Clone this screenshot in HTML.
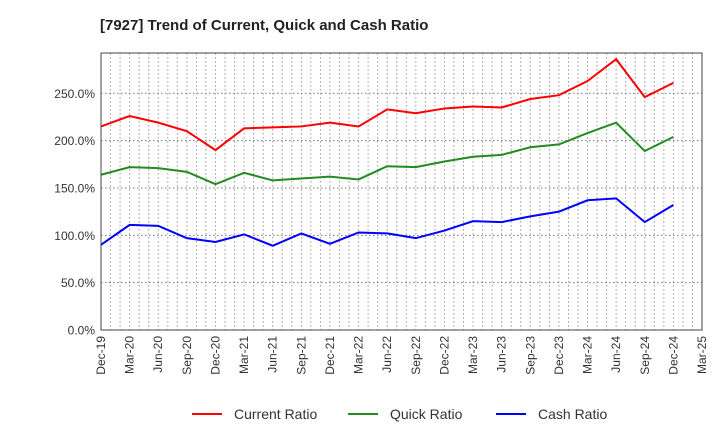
<!DOCTYPE html>
<html><head><meta charset="utf-8"><style>
body{margin:0;background:#fff;font-family:"Liberation Sans",Arial,sans-serif}
</style></head><body>
<svg width="720" height="440" xmlns="http://www.w3.org/2000/svg" id="chart" font-family="Liberation Sans, Arial, sans-serif">
<text x="100" y="30" font-size="15" font-weight="bold" fill="#222">[7927]  Trend of Current, Quick and Cash Ratio</text>
<g id="grid"></g><g id="series"></g><g id="axes"></g><g id="legend"></g>
</svg>
<script>
const categories=["Dec-19","Mar-20","Jun-20","Sep-20","Dec-20","Mar-21","Jun-21","Sep-21","Dec-21","Mar-22","Jun-22","Sep-22","Dec-22","Mar-23","Jun-23","Sep-23","Dec-23","Mar-24","Jun-24","Sep-24","Dec-24","Mar-25"];
const currentRatio=[215,226,219,210,190,213,214,215,219,215,233,229,234,236,235,244,248,263,286,246,261];
const quickRatio=[164,172,171,167,154,166,158,160,162,159,173,172,178,183,185,193,196,208,219,189,204];
const cashRatio=[90,111,110,97,93,101,89,102,91,103,102,97,105,115,114,120,125,137,139,114,132];
const yTicks=[0,50,100,150,200,250];
const seriesNames=["Current Ratio","Quick Ratio","Cash Ratio"];
const NS="http://www.w3.org/2000/svg";
const L=101,R=702,T=53,B=330;
const x=i=>L+i*(R-L)/(categories.length-1);
const y=v=>B-v*(B-93.3)/250;
function mk(tag,attrs,parent){const e=document.createElementNS(NS,tag);for(const k in attrs)e.setAttribute(k,attrs[k]);parent.appendChild(e);return e;}
const grid=document.getElementById('grid'),axes=document.getElementById('axes'),ser=document.getElementById('series'),leg=document.getElementById('legend');
const months=(categories.length-1)*3;
for(let m=1;m<months;m++){const xx=L+m*(R-L)/months;const ln=mk('line',{x1:xx,x2:xx,y1:T,y2:B,stroke:'#999','stroke-dasharray':'1.5,2.5','stroke-width':1},grid);

}
yTicks.forEach(t=>{if(t>0){const g=mk('line',{x1:L,x2:R,y1:y(t),y2:y(t),stroke:'#777','stroke-dasharray':'1.5,2.5','stroke-width':1},grid);

}
const tx=mk('text',{x:L-6,y:y(t)+4.5,'text-anchor':'end','font-size':12,fill:'#333'},axes);tx.textContent=t.toFixed(1)+'%';

});
const frame=mk('rect',{x:L,y:T,width:R-L,height:B-T,fill:'none',stroke:'#444','stroke-width':1},axes);


categories.forEach((c,i)=>{const tx=mk('text',{transform:`translate(${x(i)+4},${B+6}) rotate(-90)`,'text-anchor':'end','font-size':12,fill:'#333'},axes);tx.textContent=c;

});
const colors=['#ff0000','#228b22','#0000ff'];
[currentRatio,quickRatio,cashRatio].forEach((d,k)=>{const p=mk('polyline',{points:d.map((v,i)=>x(i)+','+y(v)).join(' '),fill:'none',stroke:colors[k],'stroke-width':2},ser);

});
const lx=[192,348,496];
seriesNames.forEach((n,k)=>{const g=mk('g',{},leg);


mk('line',{x1:lx[k],x2:lx[k]+30,y1:414,y2:414,stroke:colors[k],'stroke-width':2},g);
const t=mk('text',{x:lx[k]+42,y:419,'font-size':14,fill:'#333'},g);t.textContent=n;});
</script>
</body></html>
